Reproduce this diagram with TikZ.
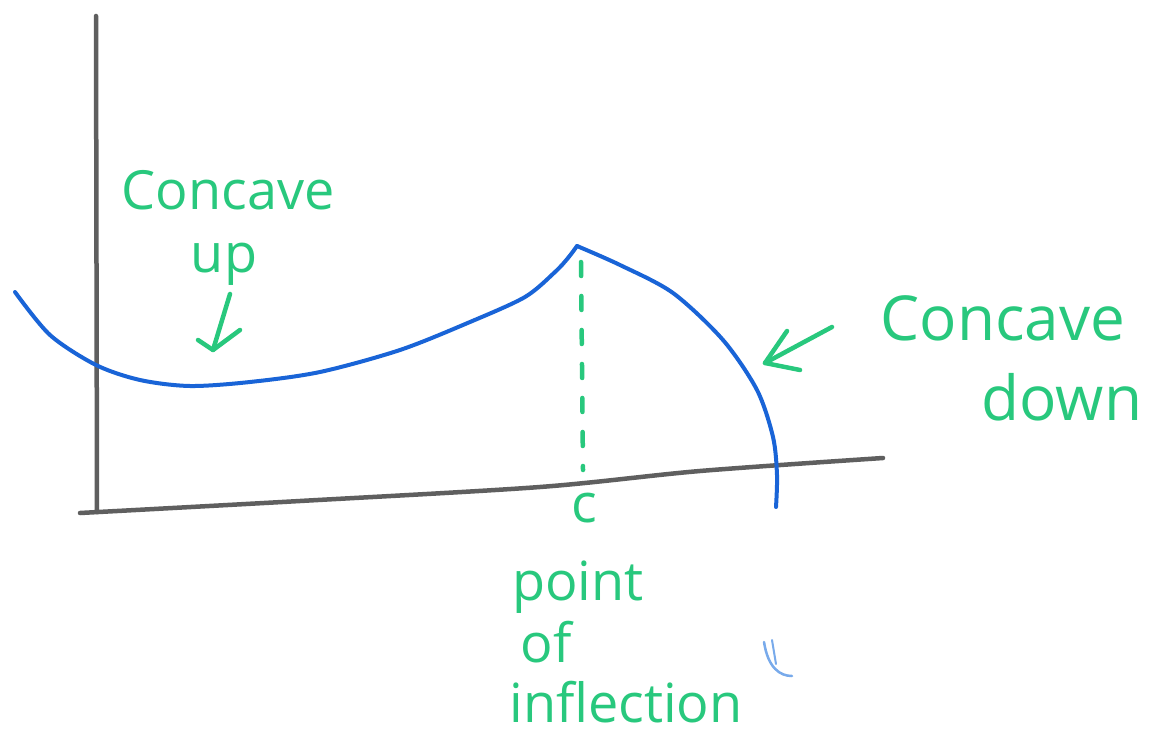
\documentclass[tikz,border=0pt]{standalone}
\usepackage{fontspec}
\setmainfont{Open Sans}
\definecolor{hgreen}{RGB}{40,200,125}
\definecolor{hblue}{RGB}{25,100,215}
\definecolor{haxis}{RGB}{95,95,95}
\definecolor{hlblue}{RGB}{120,170,235}
\begin{document}
\begin{tikzpicture}[x=1pt,y=-1pt,
  axisline/.style={haxis,line width=4.5pt,line cap=round},
  curveline/.style={hblue,line width=4pt,line cap=round,line join=round},
  greenpen/.style={hgreen,line width=4.5pt,line cap=round,line join=round},
  lbl/.style={text=hgreen,inner sep=0pt,anchor=base,font=\fontsize{54}{60}\selectfont},
  lblbig/.style={text=hgreen,inner sep=0pt,anchor=base,font=\fontsize{62}{66}\selectfont}]
\useasboundingbox (0,0) rectangle (1175,746);
\fill[white] (0,0) rectangle (1175,746);
% axes
\coordinate (ytop) at (96,16);
\coordinate (ybot) at (97,512);
\draw[axisline] (ytop) -- (ybot);
\draw[axisline] plot[smooth] coordinates {(80,513) (300,501) (540,487) (700,471) (883,458)};
% curve
\coordinate (peak) at (577,246);
\draw[curveline] plot[smooth] coordinates {(15,292) (50,335) (96,365) (140,380) (190,386) (250,382) (320,372) (400,350) (470,322) (525,297) (555,272) (568,258) (577,246)};
\draw[curveline] plot[smooth] coordinates {(577,246) (620,265) (673,293) (723,340) (757,390) (773,437) (777,475) (776,507)};
% small blue mark
\draw[hlblue,line width=2.5pt,line cap=round] (764,642) .. controls (768,668) and (780,676) .. (792,676);
\draw[hlblue,line width=2pt,line cap=round] (772,640) -- (776,664);
% dashed inflection line
\coordinate (dtop) at (581,262);
\coordinate (dbot) at (583,470);
\draw[greenpen,dash pattern=on 14pt off 20pt] (dtop) -- (dbot);
% labels
\node[lbl] (cup1) at (228,210) {Concave};
\node[lbl] (cup2) at (224,272) {up};
\node[lbl] (cc) at (584,522) {c};
\node[lbl] (poi1) at (578,600) {point};
\node[lbl] (poi2) at (546,662) {of};
\node[lbl] (poi3) at (626,722) {inflection};
\node[lblbig] (cdn1) at (1003,340) {Concave};
\node[lblbig] (cdn2) at (1062,420) {down};
% arrow concave up
\coordinate (ua) at (230,294);
\coordinate (ub) at (213,350);
\draw[greenpen] (ua) -- (ub);
\draw[greenpen] (198,340) -- (ub) -- (240,330);
% arrow concave down
\coordinate (da) at (832,327);
\coordinate (db) at (765,363);
\draw[greenpen] (da) -- (db);
\draw[greenpen] (787,331) -- (db) -- (800,370);
\end{tikzpicture}
\end{document}
